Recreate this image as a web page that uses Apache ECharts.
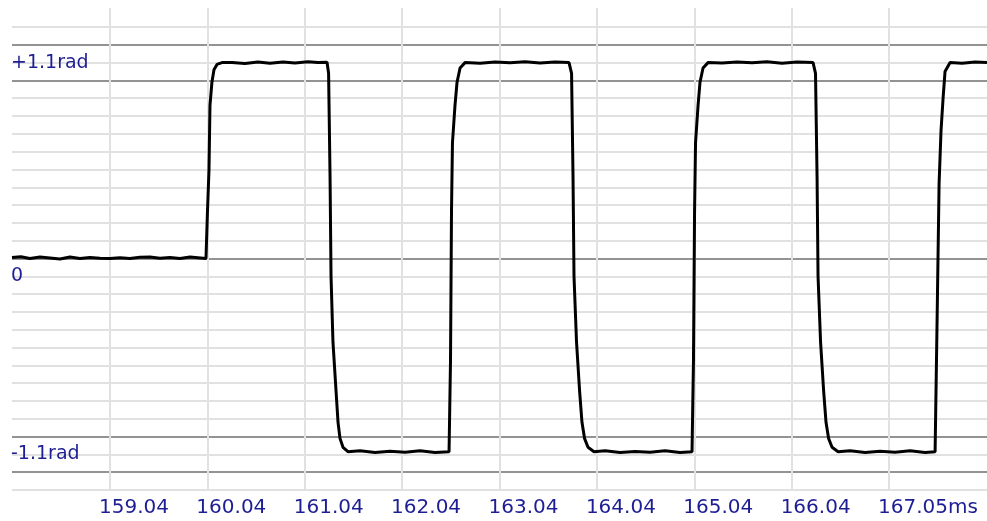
<!DOCTYPE html>
<html>
<head>
<meta charset="utf-8">
<script src="https://cdn.jsdelivr.net/npm/echarts@6/dist/echarts.min.js"></script>
<style>
    html, body { margin: 0; padding: 0; background: #ffffff; }
    #chart { width: 987px; height: 521px; }
</style>
</head>
<body>
<div id="chart"></div>
<script>
// time axis (ms) and phase (rad)
const timeMs = [
    158.034, 158.126, 158.218, 158.321, 158.424, 158.527, 158.629, 158.732, 158.835, 158.937,
    159.040, 159.143, 159.245, 159.348, 159.451, 159.553, 159.656, 159.759, 159.862, 159.944, 160.026,
    160.036, 160.041, 160.057, 160.067, 160.087, 160.108, 160.139, 160.190,
    160.293, 160.426, 160.560, 160.683, 160.817, 160.940, 161.073, 161.176, 161.269,
    161.285, 161.300, 161.310, 161.330, 161.361, 161.382, 161.402, 161.433, 161.484,
    161.608, 161.762, 161.916, 162.070, 162.224, 162.378, 162.522,
    162.532, 162.537, 162.547, 162.557, 162.583, 162.604, 162.635, 162.686,
    162.840, 162.994, 163.148, 163.302, 163.456, 163.610, 163.754,
    163.780, 163.795, 163.805, 163.831, 163.862, 163.887, 163.913, 163.949, 164.011,
    164.124, 164.278, 164.432, 164.586, 164.740, 164.894, 165.017,
    165.027, 165.032, 165.043, 165.053, 165.079, 165.099, 165.130, 165.181,
    165.325, 165.479, 165.633, 165.787, 165.941, 166.095, 166.260,
    166.285, 166.301, 166.311, 166.337, 166.368, 166.393, 166.419, 166.455, 166.517,
    166.640, 166.794, 166.948, 167.102, 167.256, 167.410, 167.513,
    167.523, 167.534, 167.554, 167.574, 167.595, 167.615, 167.667,
    167.790, 167.924, 168.046
];
const phaseRad = [
    0.005, 0.010, 0.000, 0.008, 0.003, -0.003, 0.008, 0.000, 0.006, 0.002,
    0.000, 0.004, 0.000, 0.007, 0.009, 0.002, 0.006, 0.000, 0.008, 0.004, 0.000,
    0.000, 0.26, 0.50, 0.86, 0.99, 1.06, 1.09, 1.10,
    1.100, 1.095, 1.103, 1.097, 1.104, 1.098, 1.105, 1.100, 1.102,
    1.04, 0.46, -0.10, -0.47, -0.74, -0.92, -1.01, -1.06, -1.085,
    -1.080, -1.090, -1.083, -1.088, -1.080, -1.090, -1.085,
    -1.085, -0.57, 0.26, 0.65, 0.86, 0.99, 1.07, 1.10,
    1.097, 1.104, 1.099, 1.105, 1.098, 1.103, 1.100,
    1.04, 0.46, -0.10, -0.47, -0.74, -0.92, -1.01, -1.06, -1.085,
    -1.080, -1.090, -1.084, -1.088, -1.080, -1.090, -1.085,
    -1.085, -0.57, 0.26, 0.65, 0.86, 0.99, 1.07, 1.10,
    1.098, 1.104, 1.099, 1.105, 1.097, 1.103, 1.100,
    1.04, 0.46, -0.10, -0.47, -0.74, -0.92, -1.01, -1.06, -1.085,
    -1.080, -1.090, -1.083, -1.088, -1.080, -1.090, -1.085,
    -1.085, -0.33, 0.42, 0.72, 0.90, 1.05, 1.10,
    1.097, 1.104, 1.100
];

// tick labels
const xTickValues = [159.04, 160.04, 161.04, 162.04, 163.04, 164.04, 165.04, 166.04, 167.04];
const xTickLabels = ['159.04', '160.04', '161.04', '162.04', '163.04', '164.04', '165.04', '166.04', '167.05ms'];
const yTickValues = [1.1, 0, -1.1];
const yTickLabels = ['+1.1rad', '0', '-1.1rad'];
const yMajorLevels = [-1.2, -1.0, 0, 1.0, 1.2];

const xMin = 158.034;
const xMax = 168.046;
const labelShift = 11 / 97.375; // labels sit a bit left of their grid line

let myChart = echarts.init(document.getElementById('chart'));

// one colour per horizontal grid line, darker on the major levels
let hLineColors = [];
for (let i = 0; i <= 26; i++) {
    let v = -1.3 + i * 0.1;
    let major = yMajorLevels.some((m) => Math.abs(m - v) < 1e-6);
    hLineColors.push(major ? '#939393' : '#e1e1e1');
}

const labelColor = '#1e1e94';

let option = {
    animation: false,
    backgroundColor: '#ffffff',
    grid: [
        { left: 12, right: 0, top: 8, bottom: 31 },
        { left: 12, right: 0, top: 27, bottom: 31 }
    ],
    xAxis: [
        {
            // vertical grid lines
            type: 'value',
            gridIndex: 0,
            position: 'bottom',
            min: xMin,
            max: xMax,
            axisLine: { show: false },
            axisTick: { show: false, customValues: xTickValues },
            axisLabel: { show: false },
            splitLine: { show: true, lineStyle: { color: '#e1e1e1', width: 2 } }
        },
        {
            // data axis
            type: 'value',
            gridIndex: 1,
            position: 'bottom',
            min: xMin,
            max: xMax,
            show: false,
            splitLine: { show: false }
        },
        {
            // tick labels
            type: 'value',
            gridIndex: 0,
            position: 'bottom',
            min: xMin + labelShift,
            max: xMax + labelShift,
            axisLine: { show: false },
            axisTick: { show: false },
            splitLine: { show: false },
            axisLabel: {
                show: true,
                customValues: xTickValues,
                align: 'left',
                margin: 8,
                color: labelColor,
                fontFamily: 'DejaVu Sans',
                fontSize: 20,
                formatter: (val) => {
                    let idx = xTickValues.findIndex((t) => Math.abs(t - val) < 1e-6);
                    return idx >= 0 ? xTickLabels[idx] : '';
                }
            }
        }
    ],
    yAxis: [
        {
            type: 'value',
            gridIndex: 0,
            min: -1,
            max: 1,
            show: false,
            splitLine: { show: false }
        },
        {
            type: 'value',
            gridIndex: 1,
            min: -1.3,
            max: 1.3,
            interval: 0.1,
            axisLine: { show: false },
            axisTick: { show: false },
            splitLine: {
                show: true,
                showMinLine: true,
                showMaxLine: true,
                lineStyle: { color: hLineColors, width: 2 }
            },
            axisLabel: {
                show: true,
                inside: true,
                margin: -1,
                customValues: yTickValues,
                color: labelColor,
                fontFamily: 'DejaVu Sans',
                fontSize: 19,
                formatter: (val) => {
                    let idx = yTickValues.findIndex((t) => Math.abs(t - val) < 1e-6);
                    if (idx < 0) return '';
                    return val === 0 ? '{z|' + yTickLabels[idx] + '}' : yTickLabels[idx];
                },
                rich: {
                    z: {
                        color: labelColor,
                        fontFamily: 'DejaVu Sans',
                        fontSize: 19,
                        padding: [35, 0, 0, 0]
                    }
                }
            }
        }
    ],
    series: [
        {
            type: 'line',
            xAxisIndex: 1,
            yAxisIndex: 1,
            symbol: 'none',
            lineStyle: { color: '#000000', width: 3 },
            data: timeMs.map((t, i) => [t, phaseRad[i]])
        }
    ]
};
myChart.setOption(option);
</script>
</body>
</html>
